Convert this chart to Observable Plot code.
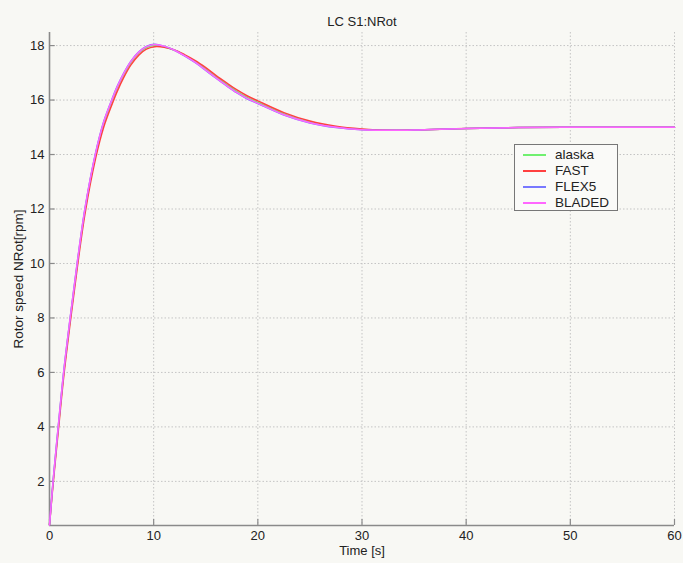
<!DOCTYPE html>
<html>
<head>
<meta charset="utf-8">
<script src="https://cdn.jsdelivr.net/npm/d3@7"></script>
<script src="https://cdn.jsdelivr.net/npm/@observablehq/plot@0.6"></script>
<style>
  html, body { margin: 0; padding: 0; background: #f8f8f4; }
  #wrap { position: relative; width: 683px; height: 563px; font-family: "Liberation Sans", Arial, sans-serif; }
  #legend { position: absolute; left: 514px; top: 144px; width: 102px; height: 65px; border: 1px solid #777; background: #fafaf8; font-size: 13.5px; color: #222; }
  .row { position: absolute; left: 0; height: 16px; line-height: 16px; }
  .sw { position: absolute; left: 8px; top: 7px; width: 23px; height: 1.5px; }
  .lb { position: absolute; left: 40px; top: 0; white-space: nowrap; }
</style>
</head>
<body>
<div id="wrap"></div>
<script>
const title = "LC S1:NRot";
const xLabel = "Time [s]";
const yLabel = "Rotor speed NRot[rpm]";
const xTicks = [0, 10, 20, 30, 40, 50, 60];
const yTicks = [2, 4, 6, 8, 10, 12, 14, 16, 18];
const seriesNames = ["alaska", "FAST", "FLEX5", "BLADED"];
const seriesColors = ["#70f070", "#ff4040", "#7878ff", "#ff66ff"];

const time = [0, 0.35, 0.85, 1.37, 2.0, 2.67, 3.42, 4.42, 5.2, 6.02, 6.5, 7.13, 7.8, 8.57, 9.3, 10.1, 11, 12, 13, 14, 15, 16, 17, 18, 19, 20, 22.5, 25, 27.5, 30, 32, 35, 40, 45, 50, 55, 60];
const alaska = [0.4, 2.0, 4.0, 6.0, 8.0, 10.0, 12.0, 14.0, 15.15, 16.0, 16.45, 16.94, 17.38, 17.73, 17.93, 18.0, 17.95, 17.83, 17.63, 17.4, 17.13, 16.84, 16.57, 16.31, 16.09, 15.91, 15.49, 15.19, 15.01, 14.92, 14.89, 14.9, 14.96, 14.99, 15.0, 15.0, 15.0];
const FAST = [0.4, 1.92, 3.88, 5.86, 7.86, 9.86, 11.86, 13.85, 15.0, 15.86, 16.32, 16.83, 17.28, 17.65, 17.87, 17.96, 17.94, 17.84, 17.66, 17.45, 17.19, 16.9, 16.63, 16.37, 16.15, 15.97, 15.54, 15.23, 15.04, 14.94, 14.9, 14.9, 14.96, 14.99, 15.0, 15.0, 15.0];
const FLEX5 = [0.4, 2.04, 4.05, 6.05, 8.05, 10.05, 12.05, 14.05, 15.2, 16.05, 16.5, 16.99, 17.42, 17.77, 17.97, 18.05, 17.98, 17.83, 17.61, 17.37, 17.09, 16.8, 16.52, 16.26, 16.04, 15.87, 15.45, 15.16, 14.99, 14.91, 14.89, 14.9, 14.96, 14.99, 15.0, 15.0, 15.0];
const BLADED = [0.4, 2.04, 4.05, 6.05, 8.05, 10.05, 12.05, 14.04, 15.19, 16.04, 16.49, 16.98, 17.41, 17.76, 17.96, 18.04, 17.98, 17.83, 17.62, 17.38, 17.1, 16.81, 16.53, 16.27, 16.05, 15.88, 15.46, 15.17, 15.0, 14.91, 14.89, 14.9, 14.96, 14.99, 15.0, 15.0, 15.0];
const yDomain = [0.38, 18.48];
const xDomain = [0, 60];

const allSeries = {alaska, FAST, FLEX5, BLADED};
const rows = [];
for (const name of seriesNames) {
  allSeries[name].forEach((v, i) => rows.push({series: name, t: time[i], v}));
}

const axisColor = "#8a8a8a";
const chart = Plot.plot({
  width: 683,
  height: 563,
  marginLeft: 49,
  marginRight: 9,
  marginTop: 32,
  marginBottom: 38,
  style: {fontFamily: "Liberation Sans, Arial, sans-serif", fontSize: "13px", background: "#f8f8f4", color: "#222", overflow: "visible"},
  x: {domain: xDomain},
  y: {domain: yDomain},
  color: {domain: seriesNames, range: seriesColors},
  marks: [
    Plot.gridX(xTicks.filter(d => d > 0), {stroke: "#c4c4c4", strokeOpacity: 1, strokeDasharray: "1.5,2"}),
    Plot.gridY(yTicks, {stroke: "#c4c4c4", strokeOpacity: 1, strokeDasharray: "1.5,2"}),
    Plot.ruleX([0], {stroke: axisColor, strokeWidth: 1.6}),
    Plot.ruleY([yDomain[0]], {stroke: axisColor, strokeWidth: 1.6}),
    Plot.ruleY(yTicks, {x1: 0, x2: 0.55, stroke: axisColor, strokeWidth: 1.2}),
    Plot.ruleX(xTicks, {y1: yDomain[0], y2: yDomain[0] + 0.22, stroke: axisColor, strokeWidth: 1.2}),
    Plot.axisY({ticks: yTicks, tickSize: 0, tickPadding: 5, label: null, tickFormat: d => String(d)}),
    Plot.axisX({ticks: xTicks, tickSize: 0, tickPadding: 5, label: null, tickFormat: d => String(d)}),
    Plot.line(rows, {x: "t", y: "v", z: "series", stroke: "series", strokeWidth: 1.5, curve: "catmull-rom"}),
    Plot.text([title], {frameAnchor: "top", dy: -16, fontSize: 13, fill: "#222"}),
    Plot.text([xLabel], {frameAnchor: "bottom", dy: 29.5, fontSize: 13, fill: "#222"}),
    Plot.text([yLabel], {frameAnchor: "left", textAnchor: "middle", dx: -31, rotate: -90, fontSize: 13.5, fill: "#222"})
  ]
});

const wrap = document.getElementById("wrap");
wrap.appendChild(chart);
const legend = document.createElement("div");
legend.id = "legend";
seriesNames.forEach((name, i) => {
  const row = document.createElement("div");
  row.className = "row";
  row.style.top = (2 + i * 16) + "px";
  row.style.width = "100%";
  const sw = document.createElement("div");
  sw.className = "sw";
  sw.style.background = seriesColors[i];
  const lb = document.createElement("div");
  lb.className = "lb";
  lb.textContent = name;
  row.appendChild(sw);
  row.appendChild(lb);
  legend.appendChild(row);
});
wrap.appendChild(legend);
</script>
</body>
</html>
